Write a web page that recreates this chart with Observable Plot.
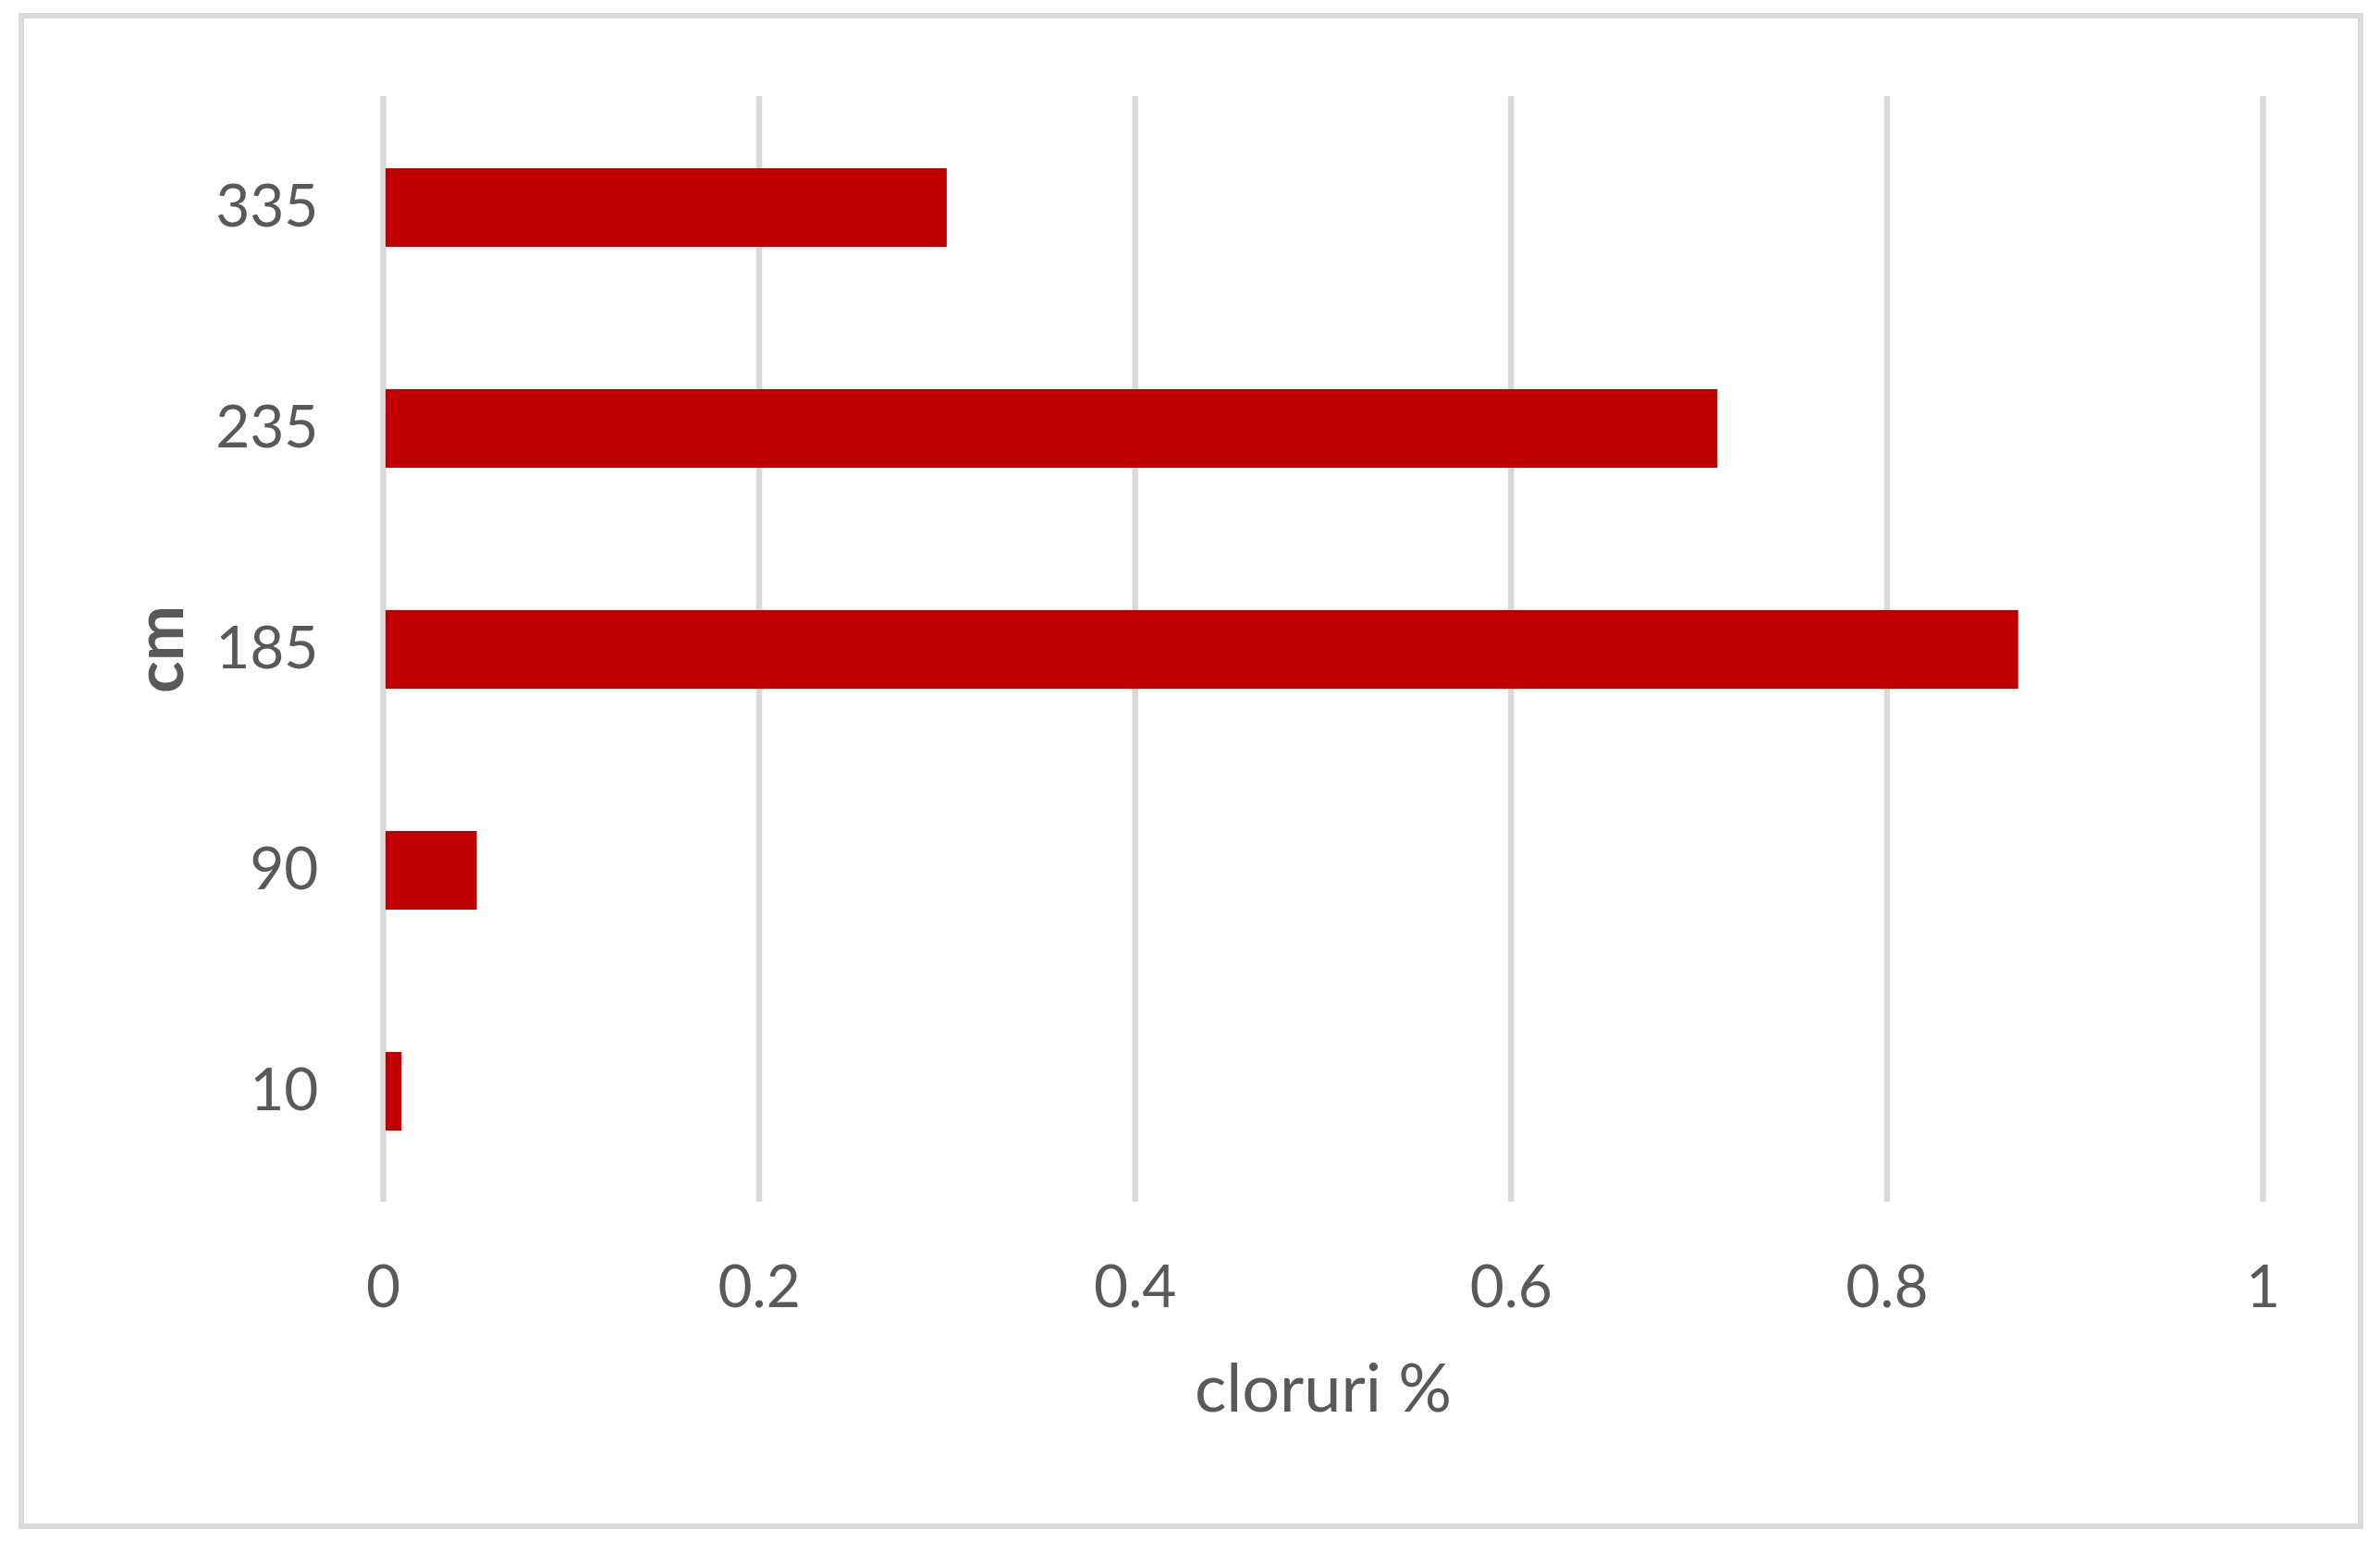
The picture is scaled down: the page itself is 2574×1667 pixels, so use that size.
<!DOCTYPE html>
<html>
<head>
<meta charset="utf-8">
<script src="https://cdn.jsdelivr.net/npm/d3@7"></script>
<script src="https://cdn.jsdelivr.net/npm/@observablehq/plot@0.6"></script>
<style>
  html, body { margin: 0; padding: 0; background: #fff; }
  #chart { position: relative; width: 2574px; height: 1667px; }
  #frame { position: absolute; left: 20px; top: 14px; width: 2524px; height: 1628px; border: 6px solid #d9d9d9; box-sizing: content-box; pointer-events: none; }
  svg { font-family: Lato, "Open Sans", "Liberation Sans", sans-serif; }
</style>
</head>
<body>
<div id="chart"><div id="frame"></div></div>
<script>
const depths = ["335", "235", "185", "90", "10"];
const chlorides = [0.30, 0.71, 0.87, 0.05, 0.01];
const xTicks = [0, 0.2, 0.4, 0.6, 0.8, 1];
const xLabel = "cloruri %";
const yLabel = "cm";

const data = depths.map((d, i) => ({depth: d, value: chlorides[i]}));

const plot = Plot.plot({
  width: 2574,
  height: 1667,
  marginLeft: 414,
  marginRight: 127,
  marginTop: 104,
  marginBottom: 367,
  style: {background: "transparent", color: "#595959", fontFamily: "Lato, 'Open Sans', sans-serif"},
  x: {domain: [0, 1], ticks: xTicks, label: null},
  y: {domain: depths, paddingInner: 0.645, paddingOuter: 0.3225, align: 0.5, label: null},
  marks: [
    Plot.ruleX(xTicks, {stroke: "#d9d9d9", strokeWidth: 6.5, strokeOpacity: 1}),
    Plot.barX(data, {x1: 0, x2: "value", y: "depth", fill: "#c00000", insetLeft: 3}),
    Plot.axisX({ticks: xTicks, tickSize: 0, tickPadding: 68, fontSize: 64, fill: "#595959", tickFormat: d => String(d), label: null}),
    Plot.axisY({tickSize: 0, tickPadding: 70, fontSize: 64, fill: "#595959", label: null}),
    Plot.text([xLabel], {frameAnchor: "bottom", dy: 226, fontSize: 72, fill: "#595959", text: d => d}),
    Plot.text([yLabel], {frameAnchor: "left", textAnchor: "middle", dx: -240, rotate: -90, fontSize: 72, fontWeight: "bold", fill: "#595959", text: d => d})
  ]
});
document.getElementById("chart").appendChild(plot);
plot.style.position = "absolute";
plot.style.left = "0px";
plot.style.top = "0px";
</script>
</body>
</html>
